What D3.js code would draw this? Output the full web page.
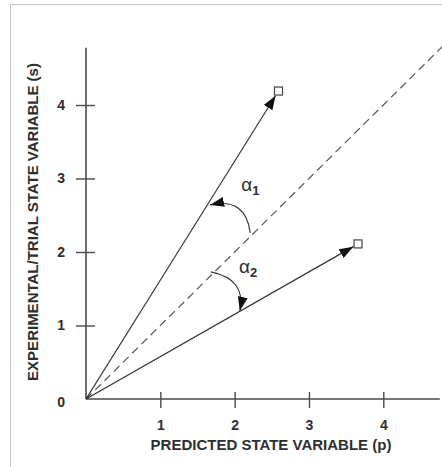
<!DOCTYPE html>
<html>
<head>
<meta charset="utf-8">
<script src="https://cdn.jsdelivr.net/npm/d3@7"></script>
<style>
  html, body { margin: 0; padding: 0; background: #fff; }
  svg { display: block; }
  text { font-family: "Liberation Sans", Arial, Helvetica, sans-serif; fill: #2e2e2e; }
</style>
</head>
<body>
<svg id="chart" width="442" height="467"></svg>
<script>
// ---- data (in data units) ----
const xTicks = [1, 2, 3, 4];
const yTicks = [0, 1, 2, 3, 4];
const xAxisTitle = "PREDICTED STATE VARIABLE (p)";
const yAxisTitle = "EXPERIMENTAL/TRIAL STATE VARIABLE (s)";
const axisMax = [4.76, 4.78];          // extent of the drawn axes (p, s)
const identityLine = [[0, 0], [4.86, 4.86]];   // dashed p = s line
const vectorNames = ["upper", "lower"];
const vectorEndP = [2.59, 3.66];       // open-square end points, p
const vectorEndS = [4.19, 2.11];       // open-square end points, s
// curved angle arrows: start, control, end (tip)
const angleArcs = [
  { name: "alpha1", start: [2.21, 2.26], ctrl: [2.15, 2.75], end: [1.67, 2.64] },
  { name: "alpha2", start: [1.68, 1.73], ctrl: [2.16, 1.63], end: [2.07, 1.20] }
];
const angleLabels = [
  { sym: "\u03B1", sub: "1", at: [2.09, 2.83] },
  { sym: "\u03B1", sub: "2", at: [2.06, 1.71] }
];

// ---- scales ----
const svg = d3.select("#chart");
const x = d3.scaleLinear().domain([0, 4]).range([86, 383.3]);
const y = d3.scaleLinear().domain([0, 4]).range([399, 105]);

// frame
svg.append("rect")
  .attr("x", 10.5).attr("y", 4.5).attr("width", 445).attr("height", 480)
  .attr("fill", "none").attr("stroke", "#c4c4c4").attr("stroke-width", 1);

const defs = svg.append("defs");
defs.append("marker")
  .attr("id", "head").attr("viewBox", "0 0 14 10")
  .attr("refX", 14).attr("refY", 5)
  .attr("markerWidth", 14).attr("markerHeight", 10)
  .attr("markerUnits", "userSpaceOnUse")
  .attr("orient", "auto")
  .append("path").attr("d", "M0,0 L14,5 L0,10 Z").attr("fill", "#111");

// ---- axes ----
const axisColor = "#4a4a4a";
const gx = svg.append("g").attr("transform", `translate(0,${y(0)})`)
  .call(d3.axisBottom(x).tickValues(xTicks).tickFormat(d3.format("d")).tickSize(9).tickPadding(12));
gx.select(".domain").remove();
gx.selectAll(".tick line").attr("y1", -7).attr("y2", 9).attr("stroke", axisColor).attr("stroke-width", 1.4);
gx.selectAll(".tick text").attr("font-size", 14).attr("font-weight", "bold")
  .attr("font-family", "Liberation Sans, Arial, sans-serif").attr("fill", "#2e2e2e");

const gy = svg.append("g").attr("transform", `translate(${x(0)},0)`)
  .call(d3.axisLeft(y).tickValues(yTicks).tickFormat(d3.format("d")).tickSize(10).tickPadding(11));
gy.select(".domain").remove();
gy.selectAll(".tick line").attr("x1", -10).attr("x2", 9).attr("stroke", axisColor).attr("stroke-width", 1.4)
  .filter(d => d === 0).remove();
gy.selectAll(".tick text").attr("font-size", 14).attr("font-weight", "bold")
  .attr("font-family", "Liberation Sans, Arial, sans-serif").attr("fill", "#2e2e2e")
  .filter(d => d === 0).attr("dy", "0.5em");

svg.append("line")
  .attr("x1", x(0)).attr("y1", y(0)).attr("x2", x(axisMax[0])).attr("y2", y(0))
  .attr("stroke", axisColor).attr("stroke-width", 1.6);
svg.append("line")
  .attr("x1", x(0)).attr("y1", y(0)).attr("x2", x(0)).attr("y2", y(axisMax[1]))
  .attr("stroke", axisColor).attr("stroke-width", 1.6);

// axis titles
svg.append("text")
  .attr("x", 271).attr("y", 450).attr("text-anchor", "middle")
  .attr("font-size", 15).attr("font-weight", "bold").text(xAxisTitle);
svg.append("text")
  .attr("transform", "translate(38,222) rotate(-90)").attr("text-anchor", "middle")
  .attr("font-size", 15).attr("font-weight", "bold").text(yAxisTitle);

// ---- dashed identity line ----
svg.append("line")
  .attr("x1", x(identityLine[0][0])).attr("y1", y(identityLine[0][1]))
  .attr("x2", x(identityLine[1][0])).attr("y2", y(identityLine[1][1]))
  .attr("stroke", "#555").attr("stroke-width", 1.2).attr("stroke-dasharray", "8,5");

// ---- vectors ----
const vectors = vectorNames.map((n, i) => ({ name: n, p: vectorEndP[i], s: vectorEndS[i] }));
vectors.forEach(v => {
  const x0 = x(0), y0 = y(0), x1 = x(v.p), y1 = y(v.s);
  const len = Math.hypot(x1 - x0, y1 - y0);
  const back = 5.5;
  const tx = x1 - (x1 - x0) / len * back, ty = y1 - (y1 - y0) / len * back;
  svg.append("line")
    .attr("x1", x0).attr("y1", y0).attr("x2", tx).attr("y2", ty)
    .attr("stroke", "#333").attr("stroke-width", 1.2).attr("marker-end", "url(#head)");
  svg.append("rect")
    .attr("x", x1 - 4).attr("y", y1 - 4).attr("width", 8).attr("height", 8)
    .attr("fill", "#fff").attr("stroke", "#444").attr("stroke-width", 1.2);
});

// ---- angle arcs ----
angleArcs.forEach(a => {
  const p = d3.path();
  p.moveTo(x(a.start[0]), y(a.start[1]));
  p.quadraticCurveTo(x(a.ctrl[0]), y(a.ctrl[1]), x(a.end[0]), y(a.end[1]));
  svg.append("path").attr("d", p.toString())
    .attr("fill", "none").attr("stroke", "#333").attr("stroke-width", 1.2)
    .attr("marker-end", "url(#head)");
});

// ---- angle labels ----
angleLabels.forEach(l => {
  const t = svg.append("text")
    .attr("x", x(l.at[0])).attr("y", y(l.at[1]))
    .attr("font-family", "DejaVu Sans, sans-serif").attr("font-size", 19).attr("fill", "#2e2e2e");
  t.append("tspan").text(l.sym);
  t.append("tspan").attr("dy", 4).attr("dx", 0)
    .attr("font-family", "Liberation Sans, Arial, sans-serif").attr("font-weight", "bold")
    .attr("font-size", 13).text(l.sub);
});
</script>
</body>
</html>
